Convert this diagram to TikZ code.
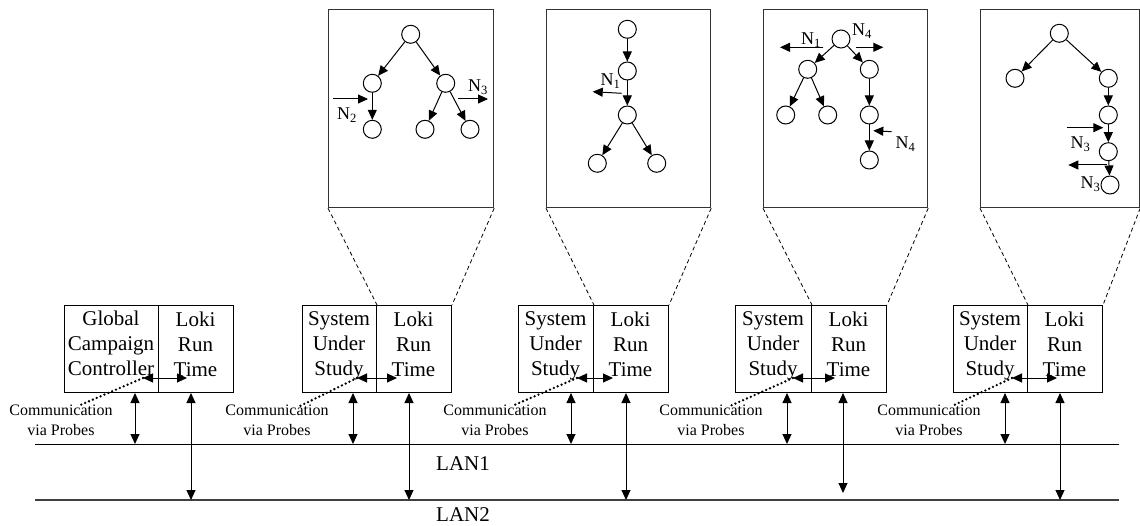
\documentclass[tikz,border=0pt]{standalone}
\usepackage{fontspec}
\setmainfont{Liberation Serif}
\usetikzlibrary{arrows.meta,calc}

\begin{document}
\begin{tikzpicture}[x=1pt,y=-1pt,line width=1pt,
  tip/.style={-{Triangle[length=10pt,width=9pt]}},
  both/.style={{Triangle[length=10pt,width=9pt]}-{Triangle[length=10pt,width=9pt]}},
  vertex/.style={circle,draw,minimum size=18pt,inner sep=0pt},
  cell/.style={draw,minimum height=87pt,anchor=north west,inner sep=0pt},
  hosttext/.style={font=\fontsize{21}{25}\selectfont,align=center,inner sep=0pt},
  commtext/.style={font=\fontsize{16}{20}\selectfont,align=center,inner sep=0pt},
  lantext/.style={font=\fontsize{21}{24}\selectfont,inner sep=0pt},
  nlabel/.style={font=\fontsize{18}{20}\selectfont,inner sep=0pt,anchor=base west},
  zoombox/.style={draw=black!80,line width=1.2pt,anchor=north west,inner sep=0pt,minimum height=198pt},
  probe/.style={line width=2.6pt,dash pattern=on 0pt off 4.2pt,line cap=round},
  zoomline/.style={line width=0.8pt,dash pattern=on 4pt off 3pt},
  lan/.style={line width=1pt},
  lanb/.style={line width=1.6pt,draw=black!75}
]
\useasboundingbox (0,0) rectangle (1140,526);

% ---------- networks ----------
\coordinate (lan1w) at (35,444);  \coordinate (lan1e) at (1119,444);
\coordinate (lan2w) at (35,500);  \coordinate (lan2e) at (1119,500);
\draw[lan] (lan1w) -- (lan1e);
\draw[lanb] (lan2w) -- (lan2e);
\node[lantext] (lan1lbl) at (463,464) {LAN1};
\node[lantext] (lan2lbl) at (463,515) {LAN2};

% ---------- hosts ----------
% host 1: campaign controller
\node[cell,minimum width=94pt] (g1) at (64,305) {};
\node[cell,minimum width=75pt] (r1) at (158,305) {};
\node[hosttext] (g1t) at (111,343) {Global\\Campaign\\Controller};
\node[hosttext] (r1t) at (195.5,344) {Loki\\Run\\Time};
\node[commtext] (c1) at (61,420) {Communication\\via Probes};

% hosts 2--5: systems under study
\node[cell,minimum width=74pt] (s2) at (302,305) {};
\node[cell,minimum width=75pt] (r2) at (376,305) {};
\node[hosttext] (s2t) at (339,346) {System\\Under\\Study};
\node[hosttext] (r2t) at (413.5,344) {Loki\\Run\\Time};
\node[commtext] (c2) at (277,420) {Communication\\via Probes};

\node[cell,minimum width=75pt] (s3) at (518,305) {};
\node[cell,minimum width=75pt] (r3) at (593,305) {};
\node[hosttext] (s3t) at (555.5,346) {System\\Under\\Study};
\node[hosttext] (r3t) at (630.5,344) {Loki\\Run\\Time};
\node[commtext] (c3) at (495,420) {Communication\\via Probes};

\node[cell,minimum width=76pt] (s4) at (735,305) {};
\node[cell,minimum width=75pt] (r4) at (811,305) {};
\node[hosttext] (s4t) at (773,346) {System\\Under\\Study};
\node[hosttext] (r4t) at (848.5,344) {Loki\\Run\\Time};
\node[commtext] (c4) at (711,420) {Communication\\via Probes};

\node[cell,minimum width=74pt] (s5) at (953,305) {};
\node[cell,minimum width=75pt] (r5) at (1027,305) {};
\node[hosttext] (s5t) at (990,346) {System\\Under\\Study};
\node[hosttext] (r5t) at (1064.5,344) {Loki\\Run\\Time};
\node[commtext] (c5) at (929,420) {Communication\\via Probes};

% network attachments
\coordinate (a1) at (135,444);  \coordinate (b1) at (191,500);
\coordinate (a2) at (353,444);  \coordinate (b2) at (409,500);
\coordinate (a3) at (571,444);  \coordinate (b3) at (626,500);
\coordinate (a4) at (787,444);  \coordinate (b4) at (843,493);
\coordinate (a5) at (1005,444); \coordinate (b5) at (1060,500);
\draw[both] (g1.south -| a1) -- (a1);  \draw[both] (r1.south -| b1) -- (b1);
\draw[both] (s2.south -| a2) -- (a2);  \draw[both] (r2.south -| b2) -- (b2);
\draw[both] (s3.south -| a3) -- (a3);  \draw[both] (r3.south -| b3) -- (b3);
\draw[both] (s4.south -| a4) -- (a4);  \draw[both] (r4.south -| b4) -- (b4);
\draw[both] (s5.south -| a5) -- (a5);  \draw[both] (r5.south -| b5) -- (b5);

% probe links between the system and the run time
\coordinate (h1a) at (143,378);  \coordinate (h1b) at (187,378);  \coordinate (p1) at (78,406);
\coordinate (h2a) at (357,378);  \coordinate (h2b) at (397,378);  \coordinate (p2) at (300,406);
\coordinate (h3a) at (577,378);  \coordinate (h3b) at (613,378);  \coordinate (p3) at (512,406);
\coordinate (h4a) at (793,378);  \coordinate (h4b) at (835,378);  \coordinate (p4) at (730,406);
\coordinate (h5a) at (1012,378); \coordinate (h5b) at (1057,378); \coordinate (p5) at (952,406);
\foreach \i in {1,...,5}{
  \draw[both] (h\i a) -- (h\i b);
  \draw[probe] (h\i a) -- (p\i);
}

% ---------- state machine views ----------
\node[zoombox,minimum width=165pt] (z1) at (328,9) {};
\node[zoombox,minimum width=164pt] (z2) at (546,9) {};
\node[zoombox,minimum width=164pt] (z3) at (763,9) {};
\node[zoombox,minimum width=159pt] (z4) at (980,9) {};
\draw[zoomline] (z1.south west) -- (s2.north east);
\draw[zoomline] (z1.south east) -- (r2.north east);
\draw[zoomline] (z2.south west) -- (s3.north east);
\draw[zoomline] (z2.south east) -- (r3.north east);
\draw[zoomline] (z3.south west) -- (s4.north east);
\draw[zoomline] (z3.south east) -- (r4.north east);
\draw[zoomline] (z4.south west) -- (s5.north east);
\draw[zoomline] (z4.south east) -- (r5.north east);

% machine 1
\node[vertex] (t1a) at (410.7,34.3) {};
\node[vertex] (t1b) at (372.3,83.3) {};
\node[vertex] (t1c) at (445.7,83.3) {};
\node[vertex] (t1d) at (372.3,129.3) {};
\node[vertex] (t1e) at (425,129.3) {};
\node[vertex] (t1f) at (470,129.3) {};
\draw[tip] (t1a) -- (t1b);
\draw[tip] (t1a) -- (t1c);
\draw[tip] (t1b) -- (t1d);
\draw[tip] (t1c) -- (t1e);
\draw[tip] (t1c) -- (t1f);
\coordinate (m1a) at (333,99);   \coordinate (m1b) at (368,99);
\coordinate (m1c) at (458,99);   \coordinate (m1d) at (488,99);
\draw[tip] (m1a) -- (m1b);
\draw[tip] (m1c) -- (m1d);
\node[nlabel] (n2a) at (336.5,120) {N\textsubscript{2}};
\node[nlabel] (n3a) at (467.5,91.5) {N\textsubscript{3}};

% machine 2
\node[vertex] (t2a) at (627.3,29.3) {};
\node[vertex] (t2b) at (627.3,71) {};
\node[vertex] (t2c) at (627.3,115) {};
\node[vertex] (t2d) at (597.3,163.3) {};
\node[vertex] (t2e) at (656.7,163.3) {};
\draw[tip] (t2a) -- (t2b);
\draw[tip] (t2b) -- (t2c);
\draw[tip] (t2c) -- (t2d);
\draw[tip] (t2c) -- (t2e);
\coordinate (m2a) at (621.7,93.3); \coordinate (m2b) at (592.7,91.7);
\draw[tip] (m2a) -- (m2b);
\node[nlabel] (n1a) at (600,86) {N\textsubscript{1}};

% machine 3
\node[vertex] (t3a) at (841,39) {};
\node[vertex] (t3b) at (807.7,69.3) {};
\node[vertex] (t3c) at (869.3,69.3) {};
\node[vertex] (t3d) at (785.7,115) {};
\node[vertex] (t3e) at (827.7,115) {};
\node[vertex] (t3f) at (869.3,115) {};
\node[vertex] (t3g) at (869.3,160) {};
\draw[tip] (t3a) -- (t3b);
\draw[tip] (t3a) -- (t3c);
\draw[tip] (t3b) -- (t3d);
\draw[tip] (t3b) -- (t3e);
\draw[tip] (t3c) -- (t3f);
\draw[tip] (t3f) -- (t3g);
\coordinate (m3a) at (823.3,47.3); \coordinate (m3b) at (780,47.3);
\coordinate (m3c) at (856,47.3);   \coordinate (m3d) at (883.3,47.3);
\coordinate (m3e) at (891.7,131.7); \coordinate (m3f) at (873.3,130.7);
\draw[tip] (m3a) -- (m3b);
\draw[tip] (m3c) -- (m3d);
\draw[tip] (m3e) -- (m3f);
\node[nlabel] (n1b) at (800.5,44.5) {N\textsubscript{1}};
\node[nlabel] (n4a) at (851.5,36) {N\textsubscript{4}};
\node[nlabel] (n4b) at (895,148.5) {N\textsubscript{4}};

% machine 4
\node[vertex] (t4a) at (1059.3,33.3) {};
\node[vertex] (t4b) at (1015,78.3) {};
\node[vertex] (t4c) at (1108.3,78.3) {};
\node[vertex] (t4d) at (1108.3,115) {};
\node[vertex] (t4e) at (1108.3,151.7) {};
\node[vertex] (t4f) at (1110,185) {};
\draw[tip] (t4a) -- (t4b);
\draw[tip] (t4a) -- (t4c);
\draw[tip] (t4c) -- (t4d);
\draw[tip] (t4d) -- (t4e);
\draw[tip] (t4e) -- (t4f);
\coordinate (m4a) at (1066.7,127.7); \coordinate (m4b) at (1103.3,127.7);
\coordinate (m4c) at (1106.7,165);   \coordinate (m4d) at (1068.3,165);
\draw[tip] (m4a) -- (m4b);
\draw[tip] (m4c) -- (m4d);
\node[nlabel] (n3b) at (1070,148.5) {N\textsubscript{3}};
\node[nlabel] (n3c) at (1080,188.5) {N\textsubscript{3}};
\end{tikzpicture}
\end{document}
